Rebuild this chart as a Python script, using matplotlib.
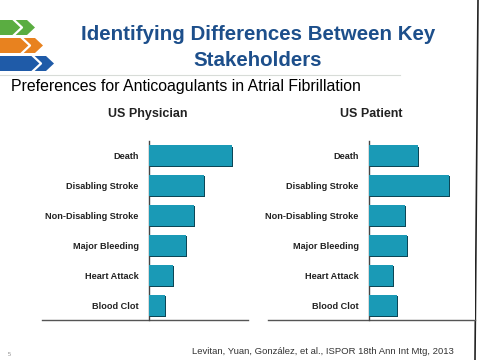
import matplotlib.pyplot as plt
from matplotlib.patches import Polygon
import numpy as np

plt.rcParams['font.family'] = ['Liberation Sans', 'DejaVu Sans']

# data
outcomes = ["Death", "Disabling Stroke", "Non-Disabling Stroke",
            "Major Bleeding", "Heart Attack", "Blood Clot"]
physician = [83, 55, 45, 37, 24, 16]
patient = [49, 80, 36, 38, 24, 28]

bar_color = "#1a9ab6"
shadow_color = "#0c4656"

fig = plt.figure(figsize=(4.8, 3.6), dpi=100)

# background axes in pixel coords for the slide decorations
bg = fig.add_axes([0, 0, 1, 1])
bg.set_xlim(0, 480)
bg.set_ylim(360, 0)
bg.axis("off")

# logo chevrons (green, orange, blue)
for top, bot, tip, col in [(20, 35, 35, "#5aad41"), (38, 53, 43, "#e8821f"), (56, 71, 54, "#1f5ba8")]:
    mid = (top + bot) / 2
    bg.add_patch(Polygon([(0, top), (tip - 8, top), (tip, mid), (tip - 8, bot), (0, bot)],
                         closed=True, color=col, lw=0))
    bg.plot([tip - 21, tip - 13, tip - 21], [top, mid, bot], color="white", lw=1.6)

bg.plot([0, 400], [75, 75], color="#d8dcd8", lw=0.8)
bg.plot([478, 475], [0, 360], color="#222222", lw=1.2)

fig.text(258/480, 1 - 35/360, "Identifying Differences Between Key", ha="center", va="center",
         fontsize=14.8, fontweight="bold", color="#1d4f8b")
fig.text(258/480, 1 - 61/360, "Stakeholders", ha="center", va="center",
         fontsize=14.8, fontweight="bold", color="#1d4f8b")
fig.text(11/480, 1 - 87/360, "Preferences for Anticoagulants in Atrial Fibrillation",
         ha="left", va="center", fontsize=11.4, color="black")
fig.text(192/480, 1 - 352/360, "Levitan, Yuan, Gonz\u00e1lez, et al., ISPOR 18th Ann Int Mtg, 2013",
         ha="left", va="center", fontsize=6.8, color="#333333")
fig.text(8/480, 1 - 355/360, "5", ha="left", va="center", fontsize=4, color="#888888")


def panel(rect, values, title, xmax, ext, title_x):
    ax = fig.add_axes(rect)
    y = np.arange(len(outcomes))
    ax.barh(y + 0.035, np.array(values) + 1.0, height=0.7, color=shadow_color, zorder=2)
    ax.barh(y, values, height=0.7, color=bar_color, zorder=3)
    ax.set_xlim(0, xmax)
    ax.set_ylim(len(outcomes) - 0.5, -0.5)
    ax.set_yticks(y)
    ax.set_yticklabels(outcomes, fontsize=6.6, fontweight="bold", color="#222222")
    ax.tick_params(axis="y", length=0, pad=7.5)
    ax.set_xticks([])
    for s in ["top", "right", "bottom"]:
        ax.spines[s].set_visible(False)
    ax.spines["left"].set_color("#444444")
    ax.spines["left"].set_linewidth(1.0)
    ax.axhline(len(outcomes) - 0.5, xmin=ext, xmax=1, color="#555555", lw=1.0, clip_on=False)
    fig.text(title_x / 480, 1 - 114/360, title, ha="center", va="center",
             fontsize=9, fontweight="bold", color="#222222")
    return ax


panel([149/480, 1 - 320/360, 99/480, 179/360], physician, "US Physician", 99, -1.08, 148)
panel([369/480, 1 - 320/360, 106/480, 179/360], patient, "US Patient", 106, -0.953, 371)

fig.savefig("out.png", dpi=100)
